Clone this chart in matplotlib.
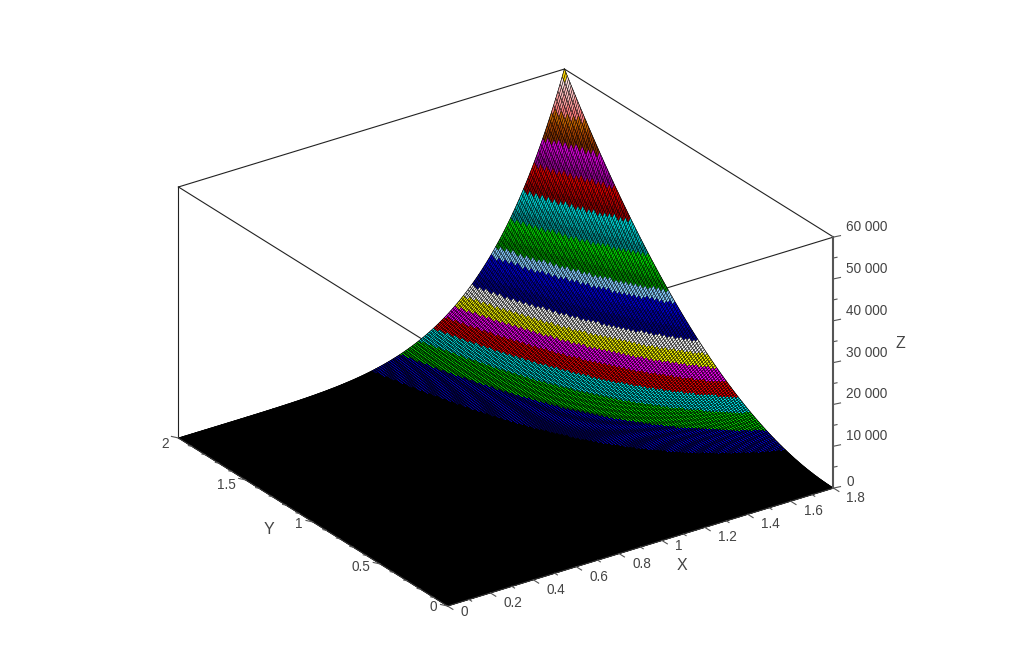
import matplotlib
matplotlib.use('Agg')
import matplotlib.pyplot as plt
import numpy as np
from mpl_toolkits.mplot3d import proj3d

plt.rcParams['font.family'] = ['Liberation Sans', 'DejaVu Sans']

W, H = 1036, 661

# grid (step 0.01 on both axes)
x_vals = np.arange(181) * 0.01
y_vals = np.arange(201) * 0.01

# height read along the back edge (y=2), from x=0 to x=1.8
z_back = [0, 0, 0, 0, 0, 0, 0, 0, 0, 0, 0, 0, 0, 0, 0, 0, 0, 0, 0, 1,
          1, 1, 2, 2, 3, 3, 4, 5, 5, 7, 8, 9, 11, 12, 14, 17, 19, 22, 25, 29,
          33, 37, 42, 47, 52, 59, 65, 73, 81, 90, 99, 110, 121, 133, 146, 160,
          175, 191, 208, 227, 247, 268, 291, 315, 341, 369, 398, 429, 462, 497,
          534, 573, 614, 659, 705, 754, 805, 860, 917, 977, 1040, 1107, 1177,
          1251, 1328, 1409, 1494, 1583, 1676, 1773, 1875, 1981, 2093, 2209,
          2330, 2457, 2589, 2727, 2870, 3019, 3175, 3337, 3506, 3681, 3863,
          4052, 4249, 4454, 4666, 4886, 5114, 5351, 5596, 5851, 6114, 6387,
          6669, 6961, 7264, 7577, 7901, 8236, 8582, 8940, 9309, 9690, 10084,
          10490, 10910, 11343, 11790, 12250, 12725, 13214, 13719, 14238, 14773,
          15324, 15892, 16476, 17078, 17697, 18333, 18988, 19661, 20353, 21064,
          21795, 22547, 23319, 24112, 24927, 25763, 26622, 27504, 28408, 29336,
          30289, 31266, 32268, 33296, 34349, 35429, 36536, 37671, 38834, 40025,
          41245, 42494, 43774, 45084, 46426, 47800, 49206, 50644, 52116, 53622,
          55163, 56740, 58352, 60000]

# height read along the right edge (x=1.8), from y=0 to y=2
z_right = [0, 2, 6, 14, 24, 38, 54, 74, 96, 122, 150, 182, 216, 254, 294, 338,
           384, 434, 486, 542, 600, 662, 726, 794, 864, 938, 1014, 1094, 1176,
           1262, 1350, 1442, 1536, 1634, 1734, 1838, 1944, 2054, 2166, 2282,
           2400, 2522, 2646, 2774, 2904, 3038, 3174, 3314, 3456, 3602, 3750,
           3902, 4056, 4214, 4374, 4538, 4704, 4874, 5046, 5222, 5400, 5582,
           5766, 5954, 6144, 6338, 6534, 6734, 6936, 7142, 7350, 7562, 7776,
           7994, 8214, 8438, 8664, 8894, 9126, 9362, 9600, 9842, 10086, 10334,
           10584, 10838, 11094, 11354, 11616, 11882, 12150, 12422, 12696,
           12974, 13254, 13538, 13824, 14114, 14406, 14702, 15000, 15302,
           15606, 15914, 16224, 16538, 16854, 17174, 17496, 17822, 18150,
           18482, 18816, 19154, 19494, 19838, 20184, 20534, 20886, 21242,
           21600, 21962, 22326, 22694, 23064, 23438, 23814, 24194, 24576,
           24962, 25350, 25742, 26136, 26534, 26934, 27338, 27744, 28154,
           28566, 28982, 29400, 29822, 30246, 30674, 31104, 31538, 31974,
           32414, 32856, 33302, 33750, 34202, 34656, 35114, 35574, 36038,
           36504, 36974, 37446, 37922, 38400, 38882, 39366, 39854, 40344,
           40838, 41334, 41834, 42336, 42842, 43350, 43862, 44376, 44894,
           45414, 45938, 46464, 46994, 47526, 48062, 48600, 49142, 49686,
           50234, 50784, 51338, 51894, 52454, 53016, 53582, 54150, 54722,
           55296, 55874, 56454, 57038, 57624, 58214, 58806, 59402, 60000]

z_peak = 60000

x_ticks = [0, 0.2, 0.4, 0.6, 0.8, 1, 1.2, 1.4, 1.6, 1.8]
y_ticks = [0, 0.5, 1, 1.5, 2]
y_desce = [1, 3.5, 2, 5.5, 6]
z_ticks = [0, 10000, 20000, 30000, 40000, 50000, 60000]
z_labels = ['0', '10 000', '20 000', '30 000', '40 000', '50 000', '60 000']

# default scilab colormap, one colour per height band
cores = [(0, 0, 0), (0, 0, 255), (0, 255, 0), (0, 255, 255), (255, 0, 0),
         (255, 0, 255), (255, 255, 0), (255, 255, 255), (0, 0, 144),
         (0, 0, 176), (0, 0, 208), (135, 206, 255), (0, 144, 0), (0, 176, 0),
         (0, 208, 0), (0, 144, 144), (0, 176, 176), (0, 208, 208),
         (144, 0, 0), (176, 0, 0), (208, 0, 0), (144, 0, 144), (176, 0, 176),
         (208, 0, 208), (128, 48, 0), (160, 64, 0), (192, 96, 0),
         (255, 128, 128), (255, 160, 160), (255, 192, 192), (255, 224, 224),
         (255, 215, 0)]
cores = np.array(cores) / 255

# how dark the mesh looks in each band: it piles up at the low bands
malha = [1, 1, 0.9, 0.85, 0.8, 0.75, 0.7, 0.7] + [0.6] * 24

X, Y = np.meshgrid(x_vals, y_vals)
Z = np.outer(z_right, z_back) / z_peak

# colour of each cell comes from its mean height
Zm = (Z[:-1, :-1] + Z[1:, :-1] + Z[:-1, 1:] + Z[1:, 1:]) / 4
nivel = np.clip((Zm / z_peak * len(cores)).astype(int), 0, len(cores) - 1)

fig = plt.figure(figsize=(W / 100, H / 100), dpi=100)
ax = fig.add_axes([0, 0, 1, 1], projection='3d', proj_type='ortho')
ax.computed_zorder = False
ax.set_axis_off()
ax.view_init(elev=25.9, azim=235.03)
ax.set_box_aspect((471, 469.4, 279))

# black sheet under the mesh, closes the seams between cells
ax.plot_surface(X, Y, Z, color='k', rstride=4, cstride=4, shade=False,
                linewidth=0.5, edgecolor='k', zorder=1.5)

surf = ax.plot_surface(X, Y, Z, facecolors=cores[nivel], rstride=1, cstride=1,
                       shade=False, zorder=2)
bordas = np.zeros((nivel.size, 4))
bordas[:, 3] = np.array(malha)[nivel.ravel()]
surf.set_edgecolor(bordas)
surf.set_linewidth(0.5)

ax.set_xlim(0, 1.8, view_margin=0)
ax.set_ylim(0, 2, view_margin=0)
ax.set_zlim(0, 60000, view_margin=0)


def para_px(x, y, z):
    ax.apply_aspect()
    px, py, _ = proj3d.proj_transform(x, y, z, ax.get_proj())
    return ax.transData.transform((px, py))


# place the axes so the box falls on the same pixels as the reference
a = para_px(0, 0, 0)
b = para_px(1.8, 0, 0)
escala = 386 / (b[0] - a[0])
lado = H * escala
ax.set_position([0, 0, lado / W, lado / H])
a = para_px(0, 0, 0)
ax.set_position([(447.5 - a[0]) / W, ((H - 606) - a[1]) / H, lado / W, lado / H])

# box behind the surface
caixa = [((0, 2, 0), (0, 2, 60000)), ((0, 2, 60000), (1.8, 2, 60000)),
         ((1.8, 2, 60000), (1.8, 0, 60000)), ((0, 2, 60000), (0, 0, 60000)),
         ((0, 0, 60000), (1.8, 0, 60000))]
for p, q in caixa:
    ax.plot([p[0], q[0]], [p[1], q[1]], [p[2], q[2]], color='#222222', lw=0.8, zorder=1)

# axes lines, in front
cinza = '#555555'
ax.plot([0, 1.8], [0, 0], [0, 0], color='#333333', lw=0.8, zorder=3)
ax.plot([0, 0], [0, 2], [0, 0], color='#333333', lw=0.8, zorder=3)
ax.plot([1.8, 1.8], [0, 0], [0, 60000], color=cinza, lw=1.5, zorder=3)


def rotulo(x, y, z, txt, dx, dy, ha='center'):
    p = para_px(x, y, z)
    ax.annotate(txt, xy=(p[0] + dx, p[1] - dy), xycoords='figure pixels', ha=ha,
                va='center', fontsize=9.8, color='#444444', annotation_clip=False)


for v in np.arange(19) * 0.1:
    t = 0.04 if round(v * 10) % 2 == 0 else 0.02
    ax.plot([v, v], [0, -t], [0, 0], color=cinza, lw=0.8, zorder=3)
for v in x_ticks:
    txt = f'{v:g}'
    rotulo(v, 0, 0, txt, 13, 10 if len(txt) > 1 else 6, ha='left')

for v in np.arange(21) * 0.1:
    major = round(v * 10) % 5 == 0
    t = 1 if major else 0.5
    ax.plot([0, -0.0326 * t], [v, v], [0, 880 * t], color=cinza, lw=0.8, zorder=3)
for v, d in zip(y_ticks, y_desce):
    rotulo(0, v, 0, f'{v:g}', -10, d, ha='right')

for v in np.arange(13) * 5000:
    t = 1 if v % 10000 == 0 else 0.5
    ax.plot([1.8, 1.8 + 0.0326 * t], [0, 0], [v, v - 160 * t], color=cinza, lw=0.8, zorder=3)
for v, txt in zip(z_ticks, z_labels):
    rotulo(1.8, 0, v, txt, 13, -10 if v else -6, ha='left')

for txt, px, py in [('X', 682, 565), ('Y', 269, 530), ('Z', 900, 343)]:
    fig.text(px / W, 1 - py / H, txt, ha='center', va='center', fontsize=11.5, color='#444444')

fig.savefig('out.png', dpi=100)
